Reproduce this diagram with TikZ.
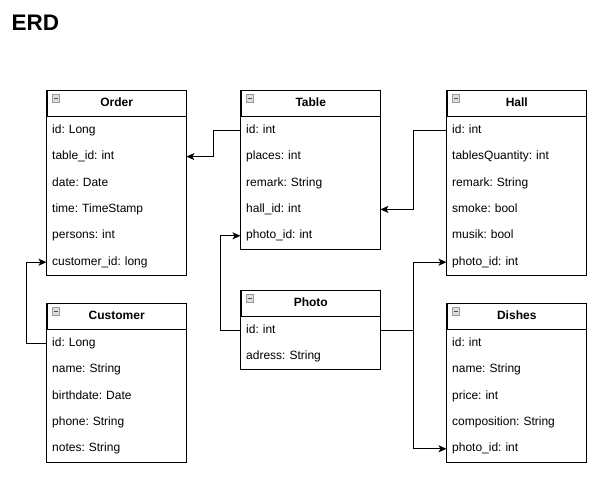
\documentclass[tikz,border=0pt]{standalone}
\usepackage{fontspec}
\setmainfont{Liberation Sans}
\frenchspacing
\usetikzlibrary{arrows.meta,positioning}
\tikzset{
  every node/.style={font=\fontsize{12}{14}\selectfont},
  head/.style={draw, line width=1pt, anchor=north west, inner sep=0pt,
    minimum width=139.5pt, minimum height=26pt, text height=8.6pt, text depth=2.6pt,
    font=\bfseries\fontsize{12}{14}\selectfont},
  row/.style={anchor=north west, inner xsep=5.5pt, inner ysep=0pt,
    text width=128.5pt, align=left, minimum height=26pt,
    text height=8.6pt, text depth=2.6pt},
  box/.style={line width=1pt},
  icon/.style={draw=gray!80, fill=gray!25, line width=0.8pt},
  link/.style={line width=1pt, -{Stealth[length=8pt, width=7pt, inset=2pt]}}}

% one entity: name, top left corner, title, rows
\newcommand{\erdtable}[4]{
  \node[head, alias=#1-0] (#1) at (#2) {#3};
  \draw[icon] ([shift={(5.5,4.5)}]#1.north west) rectangle ++(7.5,7.5);
  \draw[line width=1pt, black!70] ([shift={(7.2,8.25)}]#1.north west) -- ++(4.1,0);
  \foreach \txt [count=\i, evaluate=\i as \p using int(\i-1)] in {#4} {
    \node[row] (#1-\i) at (#1-\p.south west) {\txt};
    \xdef\lastrow{\i}
  }
  \draw[box] (#1.north west) rectangle (#1-\lastrow.south east);
}

\begin{document}
\begin{tikzpicture}[x=1pt, y=-1pt]
  \useasboundingbox (0,0) rectangle (608,483);
  \node[anchor=base west, inner sep=0pt, font=\bfseries\fontsize{22.5}{26}\selectfont] (title) at (11.5,30.5) {ERD};

  \erdtable{order}{46.5,90}{Order}{id: Long, table\_id: int, date: Date, time: TimeStamp, persons: int, customer\_id: long}
  \erdtable{table}{240.5,90}{Table}{id: int, places: int, remark: String, hall\_id: int, photo\_id: int}
  \erdtable{hall}{446.5,90}{Hall}{id: int, tablesQuantity: int, remark: String, smoke: bool, musik: bool, photo\_id: int}
  \erdtable{customer}{46.5,303}{Customer}{id: Long, name: String, birthdate: Date, phone: String, notes: String}
  \erdtable{photo}{240.5,290}{Photo}{id: int, adress: String}
  \erdtable{dishes}{446.5,303}{Dishes}{id: int, name: String, price: int, composition: String, photo\_id: int}

  \draw[link] (table-1.west) -- ++(-27,0) |- (order-2.east);
  \draw[link] (hall-1.west) -- ++(-33.5,0) |- (table-4.east);
  \draw[link] (customer-1.west) -- ++(-20,0) |- (order-6.west);
  \draw[link] (photo-1.west) -- ++(-20,0) |- (table-5.west);
  \draw[box] (photo-1.east) -- ++(33,0) coordinate (fork);
  \draw[link] (fork) |- (hall-6.west);
  \draw[link] (fork) |- (dishes-5.west);
\end{tikzpicture}
\end{document}
